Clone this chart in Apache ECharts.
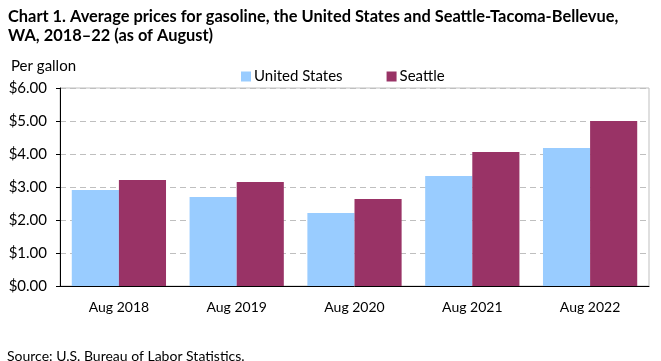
<!DOCTYPE html>
<html><head><meta charset="utf-8">
<script src="https://cdn.jsdelivr.net/npm/echarts@6/dist/echarts.min.js"></script>
<style>html,body{margin:0;padding:0;background:#fff}#c{width:661px;height:361px}</style>
</head><body><div id="c"></div>
<script>
const categories = ['Aug 2018','Aug 2019','Aug 2020','Aug 2021','Aug 2022'];
const unitedStates = [2.91, 2.70, 2.21, 3.33, 4.18];
const seattle = [3.21, 3.15, 2.64, 4.06, 5.00];
const FONT = 'Lato';
const chart = echarts.init(document.getElementById('c'));
chart.setOption({
  animation: false,
  textStyle: {fontFamily: FONT},
  title: [{
    text: 'Chart 1. Average prices for gasoline, the United States and Seattle-Tacoma-Bellevue,\nWA, 2018\u201322 (as of August)',
    left: 3, top: 2,
    textStyle: {fontFamily: FONT, fontSize: 16.4, fontWeight: 'bold', color: '#000', lineHeight: 19}
  }, {
    text: 'Per gallon', left: 6, top: 54,
    textStyle: {fontFamily: FONT, fontSize: 15, fontWeight: 'normal', color: '#000'}
  }, {
    text: 'Source: U.S. Bureau of Labor Statistics.', left: 2, top: 344,
    textStyle: {fontFamily: FONT, fontSize: 14, fontWeight: 'normal', color: '#000'}
  }],
  legend: {
    left: 236, top: 64, itemWidth: 10, itemHeight: 10, itemGap: 44,
    icon: 'rect',
    textStyle: {fontFamily: FONT, fontSize: 15, color: '#000', padding: [0,0,0,-2]},
    data: ['United States', 'Seattle']
  },
  grid: {left: 60, right: 12, top: 88, bottom: 75, show: true, borderColor: '#BFBFBF', borderWidth: 1},
  xAxis: {
    type: 'category', data: categories,
    axisLine: {lineStyle: {color: '#000', width: 1}},
    axisTick: {show: false},
    axisLabel: {color: '#000', fontSize: 14, margin: 14, fontFamily: FONT}
  },
  yAxis: {
    type: 'value', min: 0, max: 6, interval: 1,
    axisLine: {show: true, lineStyle: {color: '#000', width: 1}},
    axisTick: {show: true, length: 4, lineStyle: {color: '#000'}},
    axisLabel: {color: '#000', fontSize: 15, margin: 13, fontFamily: FONT, formatter: v => '$' + v.toFixed(2)},
    splitLine: {show: true, lineStyle: {color: '#BFBFBF', type: [6, 4], width: 1}}
  },
  series: [{
    name: 'United States', type: 'bar', data: unitedStates,
    itemStyle: {color: '#99CCFF'}, barGap: '0%', barCategoryGap: '20%'
  }, {
    name: 'Seattle', type: 'bar', data: seattle,
    itemStyle: {color: '#993366'}, barGap: '0%', barCategoryGap: '20%'
  }]
});
</script></body></html>
